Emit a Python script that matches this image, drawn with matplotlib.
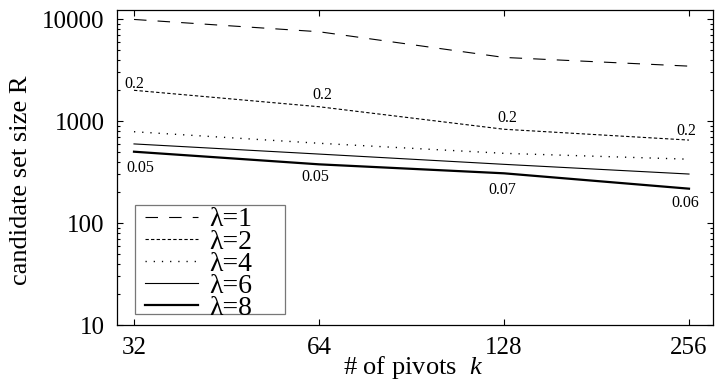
import matplotlib
matplotlib.use('Agg')
import matplotlib.pyplot as plt
import matplotlib.ticker as mticker
from matplotlib.patches import Rectangle

# number of pivots k
pivots = [32, 64, 128, 256]
# candidate set size R for each lambda
r_lam1 = [9900, 7500, 4200, 3450]
r_lam2 = [2000, 1380, 830, 650]
r_lam4 = [785, 605, 482, 422]
r_lam6 = [596, 474, 376, 302]
r_lam8 = [500, 376, 307, 217]
series_labels = ["λ=1", "λ=2", "λ=4", "λ=6", "λ=8"]
# small numbers written next to the lambda=2 and lambda=8 curves
notes_lam2 = ["0.2", "0.2", "0.2", "0.2"]
notes_lam8 = ["0.05", "0.05", "0.07", "0.06"]

plt.rcParams['font.family'] = ['Liberation Serif', 'DejaVu Serif']
plt.rcParams['mathtext.fontset'] = 'custom'
plt.rcParams['mathtext.rm'] = 'Liberation Serif'
plt.rcParams['mathtext.it'] = 'Liberation Serif:italic'
plt.rcParams['lines.scale_dashes'] = False

fig = plt.figure(figsize=(7.15, 3.81), dpi=100)
ax = fig.add_axes([117/715, 1-325/381, 596/715, 315/381])

ax.plot(pivots, r_lam1, color='black', lw=0.8, dashes=(9, 8), label=series_labels[0])
ax.plot(pivots, r_lam2, color='black', lw=0.8, dashes=(2.4, 1.6), label=series_labels[1])
ax.plot(pivots, r_lam4, color='black', lw=1.0, dashes=(0.9, 5), label=series_labels[2])
ax.plot(pivots, r_lam6, color='black', lw=0.8, label=series_labels[3])
ax.plot(pivots, r_lam8, color='black', lw=1.6, label=series_labels[4])

# offsets in pixels for the little numbers
off2 = [(0, 6), (3, 12), (3, 11), (-3, 9)]
off8 = [(6, -16), (-4, -13), (-2, -17), (-4, -14)]
for i in range(len(pivots)):
	ax.annotate(notes_lam2[i], (pivots[i], r_lam2[i]), xytext=off2[i], textcoords='offset pixels',
		ha='center', va='center', fontsize=11.5)
	ax.annotate(notes_lam8[i], (pivots[i], r_lam8[i]), xytext=off8[i], textcoords='offset pixels',
		ha='center', va='center', fontsize=11.5)

ax.set_xscale('log', base=2)
ax.set_yscale('log')
ax.set_xlim(2**(5 - 17/185), 2**(8 + 24/185))
ax.set_ylim(10, 10**(4 + 9/102))
ax.xaxis.set_major_locator(mticker.FixedLocator(pivots))
ax.xaxis.set_major_formatter(mticker.FixedFormatter([str(p) for p in pivots]))
ax.xaxis.set_minor_locator(mticker.NullLocator())
ax.yaxis.set_major_locator(mticker.FixedLocator([10, 100, 1000, 10000]))
ax.yaxis.set_major_formatter(mticker.FixedFormatter(["10", "100", "1000", "10000"]))
ax.yaxis.set_minor_locator(mticker.LogLocator(base=10, subs=range(2, 10)))
ax.yaxis.set_minor_formatter(mticker.NullFormatter())

ax.tick_params(which='both', direction='in', top=True, right=True, width=0.8)
ax.tick_params(which='major', length=4, labelsize=18)
ax.tick_params(which='minor', length=2.5)
ax.tick_params(axis='y', pad=9)
ax.tick_params(axis='x', pad=9)
for s in ax.spines.values():
	s.set_linewidth(0.9)

ax.set_xlabel("# of pivots  $k$", fontsize=19)
ax.xaxis.set_label_coords((413-117)/596, -(354-325)/315)
ax.set_ylabel("candidate set size R", fontsize=19)
ax.yaxis.set_label_coords(-(117-32)/596, (325-180)/315)

# legend box drawn by hand (gnuplot style key), entries placed inside it
ax.add_patch(Rectangle(((135-117)/596, (325-314)/315), (285-135)/596, (314-205)/315,
	transform=ax.transAxes, facecolor='white', edgecolor='#777777', lw=0.9, zorder=4))
leg = ax.legend(loc='upper left', bbox_to_anchor=((145-117)/596, (325-207)/315),
	fontsize=20, frameon=False, handlelength=1.9, handletextpad=0.4,
	labelspacing=-0.12, borderpad=0, borderaxespad=0)
leg.set_zorder(5)

plt.savefig("out.png", dpi=100)
